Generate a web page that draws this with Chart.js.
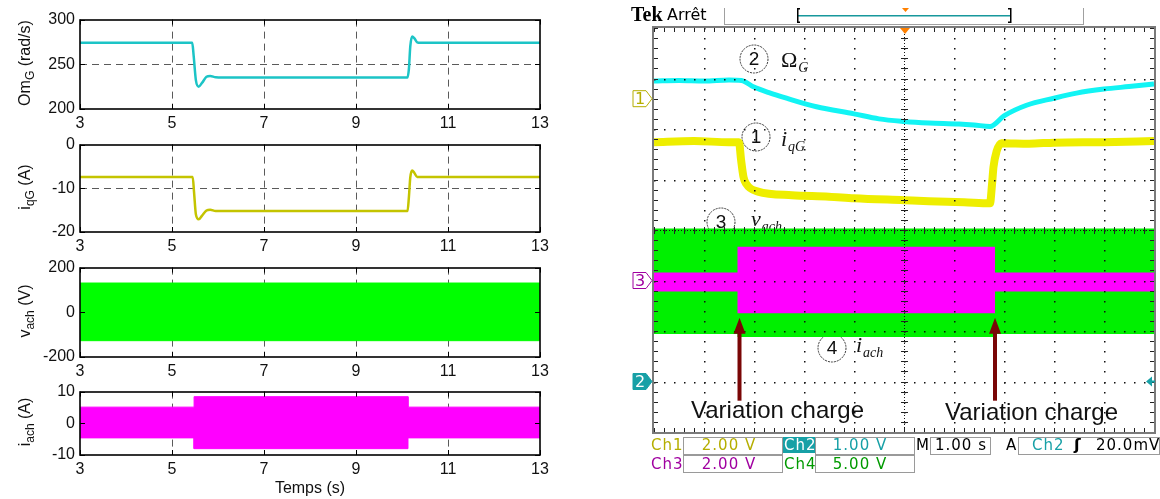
<!DOCTYPE html>
<html>
<head>
<meta charset="utf-8">
<script src="https://cdn.jsdelivr.net/npm/chart.js@4.4.1/dist/chart.umd.min.js"></script>
<style>
  body { margin: 0; background: #fff; width: 1160px; height: 499px; overflow: hidden; position: relative; font-family: "Liberation Sans", Arial, sans-serif; }
  canvas { position: absolute; left: 0; }
  #scope { top: 0; z-index: 1; }
  .panel { z-index: 2; }
  .ylab { position: absolute; z-index: 3; font-size: 16px; color: #111; white-space: nowrap; transform: translate(-50%, -50%) rotate(-90deg); }
  .ylab sub { font-size: 12px; vertical-align: -4px; }
  #xlab { position: absolute; z-index: 3; left: 310px; top: 488px; font-size: 16px; color: #111; transform: translate(-50%, -50%); white-space: nowrap; }
</style>
</head>
<body>
<canvas id="scope"></canvas>
<canvas id="p1" class="panel"></canvas>
<canvas id="p2" class="panel"></canvas>
<canvas id="p3" class="panel"></canvas>
<canvas id="p4" class="panel"></canvas>
<div class="ylab" style="left:26px;top:63px">Om<sub>G</sub> (rad/s)</div>
<div class="ylab" style="left:26px;top:187px">i<sub>qG</sub> (A)</div>
<div class="ylab" style="left:26px;top:311px">v<sub>ach</sub> (V)</div>
<div class="ylab" style="left:26px;top:422px">i<sub>ach</sub> (A)</div>
<div id="xlab">Temps (s)</div>
<script>
// ---- simulation (left) ----
const timeTicks = [3, 5, 7, 9, 11, 13];
const omegaTicks = [200, 250, 300];
const iqTicks = [-20, -10, 0];
const vachTicks = [-200, 0, 200];
const iachTicks = [-10, 0, 10];

const omegaTime = [3, 5.44, 5.47, 5.52, 5.58, 5.65, 5.75, 5.83, 5.95, 6.1, 10.12, 10.15, 10.18, 10.22, 10.27, 10.33, 10.4, 13];
const omegaValues = [274, 274, 260, 232, 225, 229, 236, 237, 235.5, 235.3, 235.3, 245, 270, 281, 279, 274.5, 274, 274];

const iqTime = [3, 5.45, 5.48, 5.52, 5.58, 5.65, 5.75, 5.83, 5.95, 10.12, 10.15, 10.18, 10.22, 10.27, 10.33, 13];
const iqValues = [-7.4, -7.4, -11, -16, -17.1, -16.3, -15.1, -14.9, -15.2, -15.2, -12, -7.5, -5.9, -6.5, -7.4, -7.4];

const vachTime = [3, 13];
const vachUpper = [131, 131];
const vachLower = [-127, -127];

const iachTime = [3, 5.48, 5.48, 10.13, 10.13, 13];
const iachUpper = [5.1, 5.1, 8.4, 8.4, 5.1, 5.1];
const iachLower = [-4.6, -4.6, -8.0, -8.0, -4.6, -4.6];

// ---- oscilloscope (right), in divisions ----
const scopeOmegaX = [0, 0.5, 1, 1.5, 1.75, 2.0, 2.3, 2.65, 3.25, 4.0, 4.5, 5.0, 5.5, 6.1, 6.4, 6.72, 7.0, 7.45, 8.0, 8.45, 9.0, 9.5, 10];
const scopeOmegaY = [2.95, 2.96, 2.95, 2.97, 2.96, 2.83, 2.72, 2.61, 2.44, 2.3, 2.2, 2.15, 2.12, 2.1, 2.08, 2.05, 2.26, 2.47, 2.61, 2.71, 2.79, 2.84, 2.89];

const scopeIqX = [0, 0.8, 1.5, 1.7, 1.74, 1.79, 1.84, 2.08, 2.76, 3.5, 4, 5, 5.5, 6.2, 6.72, 6.76, 6.79, 6.85, 6.95, 7.5, 8, 9, 10];
const scopeIqY = [1.74, 1.76, 1.74, 1.74, 1.4, 1.05, 0.92, 0.76, 0.69, 0.66, 0.63, 0.59, 0.57, 0.55, 0.53, 0.9, 1.25, 1.55, 1.72, 1.71, 1.73, 1.74, 1.76];

const scopeBandX = [0, 1.69, 1.69, 6.8, 6.8, 10];
const scopeVachTop = [0.01, 0.01, 0.01, 0.01, 0.01, 0.01];
const scopeVachBottom = [-2.04, -2.04, -2.1, -2.1, -2.04, -2.04];
const scopeIachTop = [-0.86, -0.86, -0.35, -0.35, -0.86, -0.86];
const scopeIachBottom = [-1.2, -1.2, -1.63, -1.63, -1.2, -1.2];

const loadSteps = [1.69, 6.8];
const channelLevels = { ch1: 2.6, ch3: -1.0, ch2: -3.0 };

const pts = (xs, ys) => xs.map((x, i) => ({ x: x, y: ys[i] }));
const FONT = '"Liberation Sans", Arial, sans-serif';

// Matlab style box with inward ticks
const matlabBox = {
    id: 'matlabBox',
    afterDatasetsDraw(chart) {
        const { ctx, chartArea: a, scales: { x, y } } = chart;
        ctx.save();
        ctx.strokeStyle = '#000';
        ctx.lineWidth = 1;
        x.ticks.forEach(t => {
            const px = Math.round(x.getPixelForValue(t.value)) + 0.5;
            ctx.beginPath();
            ctx.moveTo(px, a.top); ctx.lineTo(px, a.top + 5);
            ctx.moveTo(px, a.bottom); ctx.lineTo(px, a.bottom - 5);
            ctx.stroke();
        });
        y.ticks.forEach(t => {
            const py = Math.round(y.getPixelForValue(t.value)) + 0.5;
            ctx.beginPath();
            ctx.moveTo(a.left, py); ctx.lineTo(a.left + 5, py);
            ctx.moveTo(a.right, py); ctx.lineTo(a.right - 5, py);
            ctx.stroke();
        });
        ctx.lineWidth = 1.6;
        ctx.strokeRect(Math.round(a.left), Math.round(a.top), Math.round(a.right - a.left), Math.round(a.bottom - a.top));
        ctx.restore();
    }
};

const edgeless = c => (c.tick.value === c.scale.min || c.tick.value === c.scale.max) ? 'rgba(0,0,0,0)' : '#5a5a5a';

function makePanel(id, plotTop, plotH, datasets, yTicks) {
    const canvas = document.getElementById(id);
    canvas.width = 560;
    canvas.height = plotH + 36;
    canvas.style.top = (plotTop - 12) + 'px';
    return new Chart(canvas, {
        type: 'line',
        data: { datasets: datasets },
        options: {
            responsive: false,
            animation: false,
            devicePixelRatio: 1,
            events: [],
            layout: { padding: { top: 12, right: 20, left: 0, bottom: 0 } },
            elements: { point: { radius: 0 } },
            plugins: { legend: { display: false }, tooltip: { enabled: false } },
            scales: {
                x: {
                    type: 'linear', min: 3, max: 13,
                    afterBuildTicks: s => { s.ticks = timeTicks.map(v => ({ value: v })); },
                    afterFit: s => { s.height = 24; },
                    grid: { color: edgeless, drawTicks: false },
                    border: { display: false, dash: [7, 5] },
                    ticks: { padding: 5, color: '#111', font: { family: FONT, size: 16 }, maxRotation: 0, autoSkip: false }
                },
                y: {
                    type: 'linear', min: yTicks[0], max: yTicks[yTicks.length - 1],
                    afterBuildTicks: s => { s.ticks = yTicks.map(v => ({ value: v })); },
                    afterFit: s => { s.width = 80; },
                    grid: { color: edgeless, drawTicks: false },
                    border: { display: false, dash: [7, 5] },
                    ticks: { padding: 5, color: '#111', font: { family: FONT, size: 16 } }
                }
            }
        },
        plugins: [matlabBox]
    });
}

function band(upper, lower, xs, color) {
    return [
        { data: pts(xs, upper), borderColor: color, backgroundColor: color, borderWidth: 1, fill: '+1' },
        { data: pts(xs, lower), borderColor: color, borderWidth: 1, fill: false }
    ];
}

makePanel('p1', 17, 92, [
    { data: pts(omegaTime, omegaValues), borderColor: '#1cc4c6', borderWidth: 2.5, cubicInterpolationMode: 'monotone' }
], omegaTicks);
makePanel('p2', 142, 90, [
    { data: pts(iqTime, iqValues), borderColor: '#c4c400', borderWidth: 2.5, cubicInterpolationMode: 'monotone' }
], iqTicks);
makePanel('p3', 265, 92, band(vachUpper, vachLower, vachTime, '#00ff00'), vachTicks);
makePanel('p4', 389, 66, band(iachUpper, iachLower, iachTime, '#ff00ff'), iachTicks);

// ---- oscilloscope ----
const OLIVE = '#b5ae00', TEAL = '#17a0a6', PURPLE = '#a000a0', GREEN4 = '#009a00';

function circled(ctx, cx, cy, num) {
    ctx.beginPath();
    ctx.arc(cx, cy, 14, 0, Math.PI * 2);
    ctx.strokeStyle = '#333';
    ctx.lineWidth = 1;
    ctx.setLineDash([2, 1]);
    ctx.stroke();
    ctx.setLineDash([]);
    ctx.font = '19px ' + FONT;
    ctx.fillStyle = '#111';
    ctx.textAlign = 'center';
    ctx.textBaseline = 'middle';
    ctx.fillText(num, cx, cy + 1);
}

function symbol(ctx, x, y, main, sub, italicMain) {
    ctx.fillStyle = '#111';
    ctx.textAlign = 'left';
    ctx.textBaseline = 'alphabetic';
    ctx.font = (italicMain ? 'italic ' : '') + '22px "Liberation Serif"';
    ctx.fillText(main, x, y);
    const w = ctx.measureText(main).width;
    ctx.font = 'italic 14px "Liberation Serif"';
    ctx.fillText(sub, x + w + 1, y + 5);
}

function marker(ctx, py, label, stroke, fill, textColor) {
    ctx.beginPath();
    ctx.moveTo(633, py - 8); ctx.lineTo(646, py - 8); ctx.lineTo(652, py);
    ctx.lineTo(646, py + 8); ctx.lineTo(633, py + 8); ctx.closePath();
    ctx.fillStyle = fill;
    ctx.fill();
    ctx.strokeStyle = stroke;
    ctx.lineWidth = 1;
    ctx.stroke();
    ctx.fillStyle = textColor;
    ctx.font = '16px "DejaVu Sans"';
    ctx.textAlign = 'center';
    ctx.textBaseline = 'middle';
    ctx.fillText(label, 640, py + 1);
}

function box(ctx, x1, y1, x2, y2) {
    ctx.strokeStyle = '#9a9a9a';
    ctx.lineWidth = 1;
    ctx.strokeRect(x1 + 0.5, y1 + 0.5, x2 - x1 - 1, y2 - y1 - 1);
}

function txt(ctx, s, x, y, color, align) {
    ctx.fillStyle = color;
    ctx.textAlign = align || 'left';
    ctx.fillText(s, x, y);
}

const scopeDecor = {
    id: 'scopeDecor',
    beforeDatasetsDraw(chart) {
        const ctx = chart.ctx;
        ctx.save();
        circled(ctx, 754, 59, '2'); symbol(ctx, 781, 67, 'Ω', 'G', false);
        circled(ctx, 756, 137, '1'); symbol(ctx, 781, 146, 'i', 'qG', true);
        circled(ctx, 721, 222, '3'); symbol(ctx, 751, 226, 'v', 'ach', true);
        circled(ctx, 832, 348, '4'); symbol(ctx, 856, 352, 'i', 'ach', true);
        ctx.restore();
    },
    afterDatasetsDraw(chart) {
        const { ctx, chartArea: a, scales: { x, y } } = chart;
        ctx.save();
        ctx.fillStyle = '#111';
        // dotted graticule
        for (let d = 1; d < 10; d++) {
            const px = Math.round(x.getPixelForValue(d));
            for (let k = 0; k <= 40; k++) ctx.fillRect(px, Math.round(y.getPixelForValue(-4 + k * 0.2)), 1.5, 1.5);
        }
        for (let d = -3; d <= 3; d++) {
            const py = Math.round(y.getPixelForValue(d));
            for (let k = 0; k <= 50; k++) ctx.fillRect(Math.round(x.getPixelForValue(k * 0.2)), py, 1.5, 1.5);
        }
        // centre lines
        const cx = Math.round(x.getPixelForValue(5)), cy = Math.round(y.getPixelForValue(0));
        for (let p = a.top; p < a.bottom; p += 3) ctx.fillRect(cx, p, 1, 1);
        for (let p = a.left; p < a.right; p += 3) ctx.fillRect(p, cy, 1, 1);
        ctx.fillStyle = '#222';
        for (let k = 0; k <= 40; k++) {
            const py = Math.round(y.getPixelForValue(-4 + k * 0.2));
            ctx.fillRect(cx - 3, py, 7, 1);
            ctx.fillRect(a.left, py, 4, 1);
            ctx.fillRect(a.right - 4, py, 4, 1);
        }
        for (let k = 0; k <= 50; k++) {
            const px = Math.round(x.getPixelForValue(k * 0.2));
            ctx.fillRect(px, cy - 3, 1, 7);
            ctx.fillRect(px, a.top, 1, 4);
            ctx.fillRect(px, a.bottom - 4, 1, 4);
        }
        // frame
        ctx.strokeStyle = '#7a7a7a';
        ctx.lineWidth = 2;
        ctx.strokeRect(a.left - 1, a.top - 1, a.right - a.left + 2, a.bottom - a.top + 2);

        // arrows "Variation charge"
        ctx.strokeStyle = '#7a0606';
        ctx.fillStyle = '#7a0606';
        loadSteps.forEach(t => {
            const px = x.getPixelForValue(t) + 1;
            const tip = y.getPixelForValue(-1.74), tail = y.getPixelForValue(-3.38);
            ctx.lineWidth = 4;
            ctx.beginPath(); ctx.moveTo(px, tail); ctx.lineTo(px, tip + 12); ctx.stroke();
            ctx.beginPath(); ctx.moveTo(px, tip); ctx.lineTo(px - 6, tip + 16); ctx.lineTo(px + 6, tip + 16); ctx.closePath(); ctx.fill();
        });
        ctx.font = '24px ' + FONT;
        ctx.textBaseline = 'alphabetic';
        txt(ctx, 'Variation charge', 691, 418, '#111');
        txt(ctx, 'Variation charge', 945, 420, '#111');

        // trigger / top markers
        ctx.fillStyle = '#ff8000';
        ctx.beginPath(); ctx.moveTo(900, 28); ctx.lineTo(910, 28); ctx.lineTo(905, 34); ctx.closePath(); ctx.fill();
        ctx.beginPath(); ctx.moveTo(902, 8); ctx.lineTo(909, 8); ctx.lineTo(905.5, 12); ctx.closePath(); ctx.fill();
        ctx.restore();
    },
    afterDraw(chart) {
        const { ctx, scales: { y } } = chart;
        ctx.save();
        // channel markers
        marker(ctx, y.getPixelForValue(channelLevels.ch1), '1', OLIVE, '#fff', OLIVE);
        marker(ctx, y.getPixelForValue(channelLevels.ch3), '3', PURPLE, '#fff', PURPLE);
        marker(ctx, y.getPixelForValue(channelLevels.ch2), '2', TEAL, TEAL, '#fff');
        const ty = y.getPixelForValue(channelLevels.ch2);
        ctx.fillStyle = TEAL;
        ctx.beginPath(); ctx.moveTo(1146, ty); ctx.lineTo(1152, ty - 5); ctx.lineTo(1152, ty + 5); ctx.closePath(); ctx.fill();
        ctx.fillRect(1151, ty - 1, 4, 2);

        // top bar
        ctx.textBaseline = 'alphabetic';
        ctx.font = 'bold 20px "Liberation Serif"';
        txt(ctx, 'Tek', 631, 21, '#000');
        ctx.font = '16px "DejaVu Sans"';
        txt(ctx, 'Arrêt', 667, 20, '#000');
        ctx.fillStyle = '#a0a0a0';
        ctx.fillRect(724, 8, 1, 17);
        ctx.fillRect(1083, 8, 1, 17);
        ctx.fillRect(724, 24, 360, 1);
        ctx.fillStyle = '#17989c';
        ctx.fillRect(798, 15, 212, 1.5);
        ctx.fillStyle = '#000';
        ctx.fillRect(797, 8, 1.5, 15); ctx.fillRect(797, 8, 3, 1.5); ctx.fillRect(797, 21.5, 3, 1.5);
        ctx.fillRect(1010, 8, 1.5, 15); ctx.fillRect(1008, 8, 3, 1.5); ctx.fillRect(1008, 21.5, 3, 1.5);

        // bottom settings
        ctx.font = '15px "DejaVu Sans"';
        ctx.letterSpacing = '1px';
        box(ctx, 683, 437, 783, 455);
        box(ctx, 815, 437, 915, 455);
        box(ctx, 930, 437, 991, 455);
        box(ctx, 1018, 437, 1160, 455);
        box(ctx, 683, 455, 783, 473);
        box(ctx, 815, 455, 915, 473);
        ctx.fillStyle = TEAL;
        ctx.fillRect(783, 437, 32, 16);
        txt(ctx, 'Ch1', 651, 450, OLIVE);
        txt(ctx, '2.00 V', 729, 450, OLIVE, 'center');
        txt(ctx, 'Ch2', 784, 450, '#fff');
        txt(ctx, '1.00 V', 860, 450, TEAL, 'center');
        txt(ctx, 'M', 916, 450, '#000');
        txt(ctx, '1.00 s', 961, 450, '#000', 'center');
        txt(ctx, 'A', 1006, 450, '#000');
        txt(ctx, 'Ch2', 1032, 450, TEAL);
        ctx.font = 'bold 16px "DejaVu Sans"';
        txt(ctx, '\u0283', 1074, 450, '#000');
        ctx.font = '15px "DejaVu Sans"';
        txt(ctx, '20.0mV', 1096, 450, '#000');
        txt(ctx, 'Ch3', 651, 469, PURPLE);
        txt(ctx, '2.00 V', 729, 469, PURPLE, 'center');
        txt(ctx, 'Ch4', 784, 469, GREEN4);
        txt(ctx, '5.00 V', 860, 469, GREEN4, 'center');
        ctx.restore();
    }
};

const scopeCanvas = document.getElementById('scope');
scopeCanvas.width = 1160;
scopeCanvas.height = 499;
new Chart(scopeCanvas, {
    type: 'line',
    data: {
        datasets: [
            { data: pts(scopeIqX, scopeIqY), borderColor: '#eeee00', borderWidth: 8, cubicInterpolationMode: 'monotone' },
            { data: pts(scopeOmegaX, scopeOmegaY), borderColor: '#12f4f4', borderWidth: 5, cubicInterpolationMode: 'monotone' },
            { data: pts(scopeBandX, scopeIachTop), borderColor: '#ff00ff', backgroundColor: '#ff00ff', borderWidth: 2, fill: '+1' },
            { data: pts(scopeBandX, scopeIachBottom), borderColor: '#ff00ff', borderWidth: 2, fill: false },
            { data: pts(scopeBandX, scopeVachTop), borderColor: '#00f000', backgroundColor: '#00f000', borderWidth: 2, fill: '+1' },
            { data: pts(scopeBandX, scopeVachBottom), borderColor: '#00f000', borderWidth: 2, fill: false }
        ]
    },
    options: {
        responsive: false,
        animation: false,
        devicePixelRatio: 1,
        events: [],
        layout: { padding: { left: 654, right: 6, top: 28, bottom: 67 } },
        elements: { point: { radius: 0 } },
        plugins: { legend: { display: false }, tooltip: { enabled: false } },
        scales: {
            x: { type: 'linear', min: 0, max: 10, display: false },
            y: { type: 'linear', min: -4, max: 4, display: false }
        }
    },
    plugins: [scopeDecor]
});
</script>
</body>
</html>
